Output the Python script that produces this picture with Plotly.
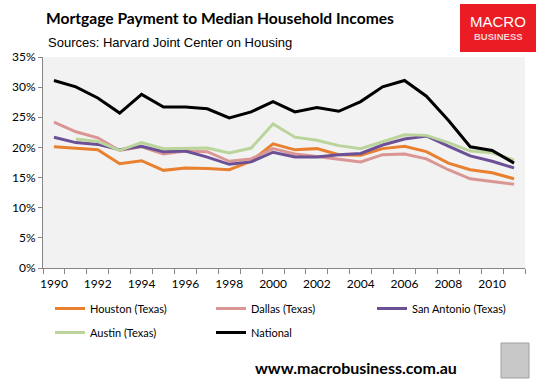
import plotly.graph_objects as go

years = list(range(1990, 2012))
houston = [20.1, 19.8, 19.6, 17.3, 17.8, 16.2, 16.6, 16.5, 16.3, 17.7, 20.6, 19.6, 19.8, 18.8, 18.7, 19.8, 20.2, 19.3, 17.4, 16.3, 15.8, 14.8]
dallas = [24.2, 22.6, 21.6, 19.5, 20.1, 18.9, 19.4, 19.3, 17.7, 18.1, 19.8, 18.9, 18.5, 18.1, 17.6, 18.8, 18.9, 18.1, 16.3, 14.8, 14.4, 13.9]
san_antonio = [21.7, 20.8, 20.5, 19.6, 20.2, 19.3, 19.4, 18.4, 17.2, 17.6, 19.2, 18.4, 18.4, 18.8, 19.0, 20.4, 21.4, 21.9, 20.2, 18.6, 17.7, 16.6]
austin = [None, 21.4, 21.0, 19.5, 20.8, 19.8, 19.9, 19.9, 19.1, 19.9, 23.9, 21.7, 21.2, 20.3, 19.8, 21.0, 22.1, 22.0, 20.8, 19.4, 19.1, 17.9]
national = [31.1, 30.05, 28.2, 25.7, 28.8, 26.7, 26.7, 26.4, 24.9, 25.9, 27.6, 25.9, 26.6, 26.0, 27.6, 30.05, 31.1, 28.5, 24.5, 20.1, 19.5, 17.4]

y_ticks = [0, 5, 10, 15, 20, 25, 30, 35]
y_tick_labels = [f"{v}%" for v in y_ticks]
x_ticks = list(range(1990, 2011, 2))

series = [
    ("Houston (Texas)", houston, "#E8802F", "legend"),
    ("Dallas (Texas)", dallas, "#D99694", "legend"),
    ("San Antonio (Texas)", san_antonio, "#6B5096", "legend"),
    ("Austin (Texas)", austin, "#BBD49C", "legend2"),
    ("National", national, "#000000", "legend2"),
]

FONT = "Lato"
W, H = 541, 383
L, R, T, B = 43, 16, 57, 115
PW = W - L - R
PH = H - T - B


def px(x):
    return (x - L) / PW


def py(y):
    return (H - B - y) / PH


fig = go.Figure()
for name, vals, color, leg in series:
    fig.add_trace(go.Scatter(
        x=years, y=vals, name=name, mode="lines",
        line=dict(color=color, width=3),
        legend=leg,
    ))

legend_common = dict(
    orientation="h", xanchor="left", yanchor="top",
    entrywidth=116, entrywidthmode="pixels",
    font=dict(family=FONT, size=11), itemwidth=30,
    bgcolor="rgba(0,0,0,0)", tracegroupgap=0,
)

fig.update_layout(
    width=W, height=H,
    margin=dict(l=L, r=R, t=T, b=B, autoexpand=False),
    paper_bgcolor="white",
    plot_bgcolor="#F2F2F2",
    font=dict(family=FONT, size=12, color="#000000"),
    showlegend=True,
    legend=dict(x=px(50), y=py(294), **legend_common),
    legend2=dict(x=px(50), y=py(318), **legend_common),
    xaxis=dict(
        range=[1989.5, 2011.5],
        tickmode="array", tickvals=x_ticks, ticktext=[str(v) for v in x_ticks],
        ticks="", showgrid=False, zeroline=False,
        showline=True, linecolor="#868686", linewidth=1,
        tickfont=dict(family=FONT, size=12),
        ticklabelstandoff=5,
        minor=dict(tickmode="linear", tick0=1989.5, dtick=1, ticks="outside",
                   ticklen=5, tickcolor="#868686", showgrid=False),
    ),
    yaxis=dict(
        range=[0, 35],
        tickmode="array", tickvals=y_ticks, ticktext=y_tick_labels,
        ticks="outside", ticklen=4, tickcolor="#868686",
        showgrid=False, zeroline=False,
        showline=True, linecolor="#868686", linewidth=1,
        tickfont=dict(family=FONT, size=12),
    ),
)

# Titles
fig.add_annotation(text="<b>Mortgage Payment to Median Household Incomes</b>",
                   xref="paper", yref="paper", x=px(44), y=py(18),
                   xanchor="left", yanchor="middle", showarrow=False,
                   font=dict(family=FONT, size=15.6, color="#000000"))
fig.add_annotation(text="Sources: Harvard Joint Center on Housing",
                   xref="paper", yref="paper", x=px(46), y=py(42),
                   xanchor="left", yanchor="middle", showarrow=False,
                   font=dict(family="Liberation Sans", size=13, color="#000000"))

# MACRO BUSINESS logo box
fig.add_shape(type="rect", xref="paper", yref="paper",
              x0=px(460), x1=px(536), y0=py(52), y1=py(4),
              fillcolor="#EC1C24", line=dict(width=0), layer="above")
fig.add_annotation(text="MACRO", xref="paper", yref="paper",
                   x=px(498), y=py(21),
                   xanchor="center", yanchor="middle", showarrow=False,
                   font=dict(family="Liberation Sans", size=15, color="white"))
fig.add_annotation(text="<b>BUSINESS</b>", xref="paper", yref="paper",
                   x=px(498), y=py(37),
                   xanchor="center", yanchor="middle", showarrow=False,
                   font=dict(family="Liberation Sans", size=9.5, color="#F6D0D0"))

# Website footer
fig.add_annotation(text="<b>www.macrobusiness.com.au</b>", xref="paper", yref="paper",
                   x=px(356), y=py(367),
                   xanchor="center", yanchor="middle", showarrow=False,
                   font=dict(family=FONT, size=16, color="#000000"))

# Wolf image placeholder frame
fig.add_shape(type="rect", xref="paper", yref="paper",
              x0=px(501), x1=px(529), y0=py(378), y1=py(343),
              fillcolor="#C8C8C8", line=dict(color="#A0A0A0", width=1))

fig.write_html("out.html", config={"displayModeBar": False},
               post_script="document.body.style.margin='0';")
